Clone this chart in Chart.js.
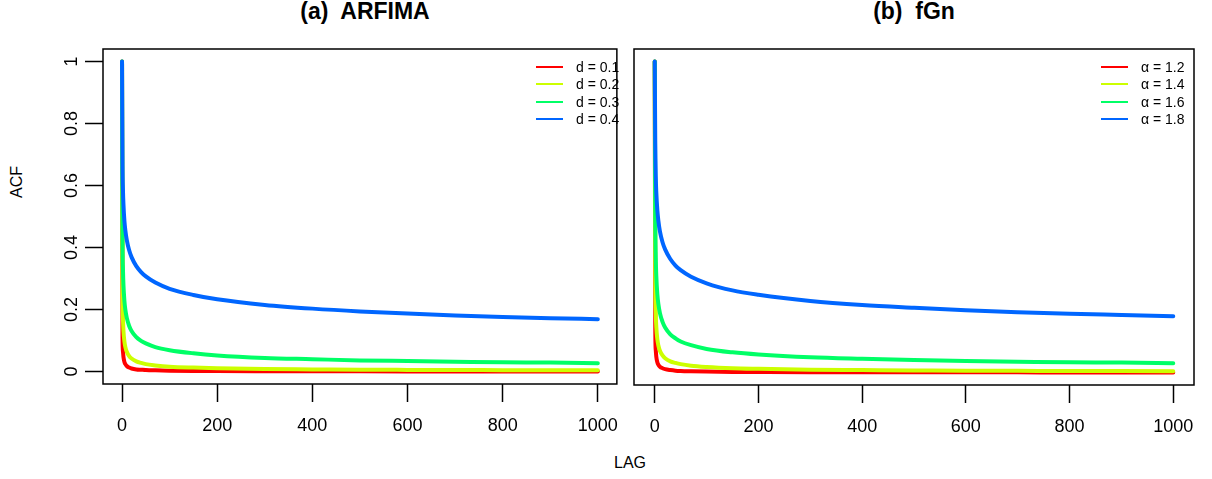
<!DOCTYPE html>
<html lang="en">
  <head>
    <meta charset="UTF-8" />
    <title>ACF: ARFIMA vs fGn</title>
    <style>
      html,
      body {
        margin: 0;
        padding: 0;
        background: #fff;
      }
      body {
        width: 1212px;
        height: 479px;
        position: relative;
        overflow: hidden;
        font-family: "Liberation Sans", Arial, Helvetica, sans-serif;
        color: #000;
      }
      .panel {
        position: absolute;
        top: 0;
        height: 479px;
      }
      .title {
        position: absolute;
        top: 0;
        font-weight: bold;
        font-size: 23px;
        line-height: 23px;
        white-space: pre;
        transform: translateX(-50%);
      }
      .axis-label {
        position: absolute;
        font-size: 16px;
        line-height: 16px;
        white-space: nowrap;
      }
      .legend {
        position: absolute;
        top: 58px;
        font-size: 14px;
      }
      .legend .row {
        height: 17.5px;
        display: flex;
        align-items: center;
      }
      .legend .swatch {
        display: inline-block;
        width: 27px;
        height: 2px;
        margin-right: 13px;
      }
    </style>
  </head>

  <body>
    <div class="title" style="left: 365px">(a)  ARFIMA</div>
    <div class="title" style="left: 914px">(b)  fGn</div>

    <div class="axis-label" style="left: 17px; top: 182px; transform: translate(-50%, -50%) rotate(-90deg)">ACF</div>
    <div class="axis-label" style="left: 630px; top: 463px; transform: translate(-50%, -50%)">LAG</div>

    <div class="panel" style="left: 0; width: 631px">
      <canvas id="acf-arfima" width="631" height="479"></canvas>
    </div>
    <div class="panel" style="left: 631px; width: 581px">
      <canvas id="acf-fgn" width="581" height="479"></canvas>
    </div>

    <div class="legend" id="legend-arfima" style="left: 536px"></div>
    <div class="legend" id="legend-fgn" style="left: 1101px"></div>

    <script src="https://cdn.jsdelivr.net/npm/chart.js"></script>
    <script>
      // lags at which the autocorrelations are sampled
      const lags = [0, 1, 2, 3, 5, 7, 10, 15, 20, 30, 40, 50, 70, 100, 150, 200, 300, 400, 500, 600, 700, 800, 900, 1000];

      // ARFIMA(0,d,0) autocorrelations
      const arfimaNames = ["d = 0.1", "d = 0.2", "d = 0.3", "d = 0.4"];
      const arfimaD1 = [1, 0.111, 0.064, 0.047, 0.031, 0.024, 0.018, 0.013, 0.010, 0.007, 0.006, 0.005, 0.004, 0.003, 0.002, 0.0016, 0.0012, 0.0009, 0.0008, 0.0007, 0.0006, 0.0005, 0.0005, 0.0004];
      const arfimaD2 = [1, 0.250, 0.167, 0.131, 0.097, 0.079, 0.064, 0.050, 0.042, 0.033, 0.028, 0.024, 0.020, 0.016, 0.013, 0.011, 0.008, 0.007, 0.006, 0.0055, 0.005, 0.0046, 0.0043, 0.004];
      const arfimaD3 = [1, 0.429, 0.328, 0.279, 0.228, 0.199, 0.173, 0.147, 0.131, 0.111, 0.099, 0.091, 0.079, 0.069, 0.059, 0.052, 0.044, 0.040, 0.036, 0.034, 0.032, 0.030, 0.029, 0.027];
      const arfimaD4 = [1, 0.667, 0.583, 0.539, 0.486, 0.455, 0.424, 0.391, 0.369, 0.340, 0.321, 0.307, 0.287, 0.267, 0.247, 0.233, 0.215, 0.203, 0.194, 0.187, 0.181, 0.176, 0.172, 0.169];

      // fractional Gaussian noise autocorrelations
      const fgnNames = ["\u03b1 = 1.2", "\u03b1 = 1.4", "\u03b1 = 1.6", "\u03b1 = 1.8"];
      const fgnA12 = [1, 0.149, 0.071, 0.051, 0.033, 0.025, 0.019, 0.014, 0.011, 0.008, 0.006, 0.005, 0.004, 0.003, 0.002, 0.0017, 0.0012, 0.0010, 0.0008, 0.0007, 0.0006, 0.0005, 0.0005, 0.0004];
      const fgnA14 = [1, 0.320, 0.189, 0.147, 0.107, 0.087, 0.070, 0.055, 0.046, 0.036, 0.031, 0.027, 0.022, 0.018, 0.014, 0.012, 0.009, 0.008, 0.007, 0.006, 0.0055, 0.005, 0.0047, 0.0044];
      const fgnA16 = [1, 0.516, 0.369, 0.311, 0.252, 0.220, 0.191, 0.163, 0.145, 0.123, 0.110, 0.100, 0.088, 0.076, 0.065, 0.058, 0.049, 0.044, 0.040, 0.037, 0.035, 0.033, 0.032, 0.030];
      const fgnA18 = [1, 0.741, 0.631, 0.579, 0.522, 0.488, 0.454, 0.419, 0.396, 0.365, 0.344, 0.329, 0.308, 0.287, 0.264, 0.250, 0.230, 0.217, 0.208, 0.200, 0.194, 0.189, 0.185, 0.181];

      const xTicks = [0, 200, 400, 600, 800, 1000];
      const yTicks = [0, 0.2, 0.4, 0.6, 0.8, 1];
      const colors = ["#FF0000", "#CCFF00", "#00FF66", "#0066FF"];

      const FONT = "'Liberation Sans', Arial, Helvetica, sans-serif";

      // box around the plotting region, like R's box()
      const frame = {
        id: "frame",
        afterDraw(chart) {
          const a = chart.chartArea;
          const ctx = chart.ctx;
          ctx.save();
          ctx.strokeStyle = "#000";
          ctx.lineWidth = 1.5;
          ctx.strokeRect(a.left, a.top, a.right - a.left, a.bottom - a.top);
          ctx.restore();
        },
      };

      function makeDatasets(series) {
        return series.map((vals, i) => ({
          data: lags.map((lag, j) => ({ x: lag, y: vals[j] })),
          borderColor: colors[i],
          borderWidth: 4,
          pointRadius: 0,
          cubicInterpolationMode: "monotone",
          borderCapStyle: "round",
          borderJoinStyle: "round",
          // later series on top
          order: series.length - i,
        }));
      }

      function makeChart(id, series, opts) {
        return new Chart(document.getElementById(id), {
          type: "line",
          data: { datasets: makeDatasets(series) },
          plugins: [frame],
          options: {
            responsive: false,
            animation: false,
            events: [],
            layout: { padding: opts.padding },
            plugins: { legend: { display: false }, tooltip: { enabled: false } },
            scales: {
              x: {
                type: "linear",
                min: -40,
                max: 1040,
                border: { display: false },
                grid: {
                  drawOnChartArea: false,
                  tickLength: 18,
                  tickColor: "#000",
                  tickWidth: 1.5,
                },
                ticks: {
                  color: "#000",
                  font: { family: FONT, size: 18 },
                  padding: 13,
                  maxRotation: 0,
                  autoSkip: false,
                  callback: (v) => String(v),
                },
                afterBuildTicks: (s) => {
                  s.ticks = xTicks.map((v) => ({ value: v }));
                },
                afterFit: (s) => {
                  s.height = opts.xHeight;
                },
              },
              y: {
                type: "linear",
                min: -0.04,
                max: 1.04,
                display: opts.yAxis,
                border: { display: false },
                grid: {
                  drawOnChartArea: false,
                  tickLength: 18,
                  tickColor: "#000",
                  tickWidth: 1.5,
                },
                ticks: {
                  color: "#000",
                  font: { family: FONT, size: 18 },
                  padding: 0,
                  minRotation: 90,
                  maxRotation: 90,
                  crossAlign: "center",
                  autoSkip: false,
                  callback: (v) => String(+v.toFixed(1)),
                },
                afterBuildTicks: (s) => {
                  s.ticks = yTicks.map((v) => ({ value: v }));
                },
                afterFit: (s) => {
                  s.width = opts.yWidth;
                },
              },
            },
          },
        });
      }

      function makeLegend(id, names) {
        const box = document.getElementById(id);
        names.forEach((name, i) => {
          const row = document.createElement("div");
          row.className = "row";
          row.innerHTML =
            '<span class="swatch" style="background:' + colors[i] + '"></span><span>' + name + "</span>";
          box.appendChild(row);
        });
      }

      makeChart("acf-arfima", [arfimaD1, arfimaD2, arfimaD3, arfimaD4], {
        padding: { top: 49, right: 4, left: 0, bottom: 0 },
        xHeight: 95,
        yWidth: 103,
        yAxis: true,
      });
      makeChart("acf-fgn", [fgnA12, fgnA14, fgnA16, fgnA18], {
        padding: { top: 49, right: 18, left: 3, bottom: 0 },
        xHeight: 94,
        yWidth: 0,
        yAxis: false,
      });

      makeLegend("legend-arfima", arfimaNames);
      makeLegend("legend-fgn", fgnNames);
    </script>
  </body>
</html>
